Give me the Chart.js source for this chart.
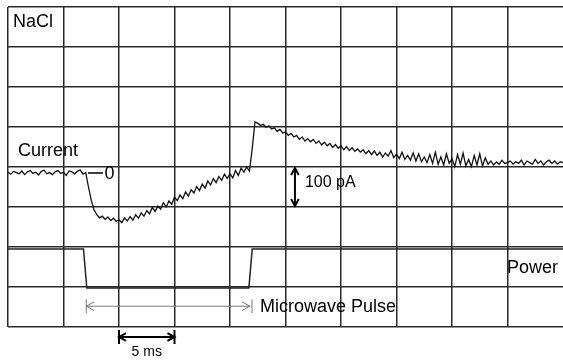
<!DOCTYPE html>
<html>
<head>
<meta charset="utf-8">
<script src="https://cdn.jsdelivr.net/npm/chart.js@4/dist/chart.umd.min.js"></script>
<style>
html, body { margin: 0; padding: 0; background: #fff; }
</style>
</head>
<body>
<canvas id="myChart" width="563" height="362"></canvas>
<script>
// scope trace, NaCl, microwave pulse

// current trace, sampled every 0.25 ms, in pA (0 = baseline)
var sampleStep = 0.25;
var currentPA = [
    2, -3, 4, 1,   -2, 5, -4, 3,   6, -1, 2, -5,   4, 7, -2, 1,
    -4, 3, 6, -1,   2, -6, 5, 3,   -2, 4, 8, -3,
    1, -35, -68, -92,   -104, -112, -108, -116,   -110, -119, -113, -121,
    -117, -124, -112, -120,   -109, -118, -104, -113,   -100, -108, -94, -102,
    -86, -96, -83, -90,   -74, -85, -70, -78,   -60, -69, -55, -64,
    -47, -58, -42, -50,   -34, -44, -28, -38,   -20, -30, -14, -24,
    -9, -18, -3, -14,   -2, -12, 6, -6,   12, 2, 15, 5,
    60, 128, 124, 119,   122, 114, 118, 110,   113, 104, 109, 100,
    103, 94, 99, 90,   94, 84, 90, 80,   86, 78, 84, 74,
    80, 70, 77, 68,   74, 64, 71, 62,   68, 58, 66, 56,
    63, 54, 60, 52,   58, 48, 56, 46,   55, 44, 52, 40,
    50, 42, 56, 38,   47, 36, 52, 34,   44, 32, 50, 30,
    48, 28, 40, 26,   46, 24, 52, 22,   40, 20, 48, 24,
    36, 16, 46, 22,   50, 18, 34, 16,   44, 20, 48, 18,
    38, 22, 30, 20,   28, 22, 32, 24,   26, 30, 22, 28,
    24, 32, 20, 30,   26, 22, 34, 24,   30, 20, 28, 32,
    24, 30, 22, 28,   26
];

// microwave power trace (1 = on level, 0 = off level)
var powerTimes = [0, 6.8, 7.1, 21.7, 22.0, 50];
var powerLevels = [1, 1, 0, 0, 1, 1];

var gridColor = '#2a2a2a';

var currentData = currentPA.map(function (v, i) { return { x: i * sampleStep, y: v }; });
var powerData = powerTimes.map(function (t, i) { return { x: t, y: powerLevels[i] }; });

function arrowHead(ctx, x, y, angle, size) {
    ctx.beginPath();
    ctx.moveTo(x - size * Math.cos(angle - 0.5), y - size * Math.sin(angle - 0.5));
    ctx.lineTo(x, y);
    ctx.lineTo(x - size * Math.cos(angle + 0.5), y - size * Math.sin(angle + 0.5));
    ctx.stroke();
}

var notes = {
    id: 'notes',
    afterDatasetsDraw: function (chart) {
        var ctx = chart.ctx;
        var sx = chart.scales.x, sy = chart.scales.y, si = chart.scales.yI;
        var X = function (v) { return sx.getPixelForValue(v); };
        var Y = function (v) { return sy.getPixelForValue(v); };
        ctx.save();
        ctx.fillStyle = '#000';
        ctx.textBaseline = 'middle';
        ctx.textAlign = 'left';
        ctx.font = '18px "Liberation Sans", Arial, sans-serif';
        ctx.fillText('NaCl', X(0.45), Y(7.62));
        ctx.fillText('Current', X(0.9), Y(4.4));
        ctx.fillText('Power', X(44.95), Y(1.47));
        ctx.fillText('Microwave Pulse', X(22.7), Y(0.5));

        // zero marker
        ctx.strokeStyle = '#000';
        ctx.lineWidth = 1.5;
        ctx.beginPath();
        ctx.moveTo(X(7.2), si.getPixelForValue(0));
        ctx.lineTo(X(8.55), si.getPixelForValue(0));
        ctx.stroke();
        ctx.fillText('0', X(8.7), si.getPixelForValue(0) + 1);

        // 100 pA arrow
        ctx.lineWidth = 2;
        var ax = X(25.85);
        ctx.beginPath();
        ctx.moveTo(ax, Y(4) + 1);
        ctx.lineTo(ax, Y(3) - 1);
        ctx.stroke();
        arrowHead(ctx, ax, Y(4) + 1, -Math.PI / 2, 8);
        arrowHead(ctx, ax, Y(3) - 1, Math.PI / 2, 8);
        ctx.font = '16px "Liberation Sans", Arial, sans-serif';
        ctx.fillText('100 pA', X(26.75), Y(3.62));

        // microwave pulse span
        ctx.strokeStyle = '#777';
        ctx.lineWidth = 1;
        var py = Y(0.52), p1 = X(7.05), p2 = X(21.8);
        ctx.beginPath();
        ctx.moveTo(p1, py);
        ctx.lineTo(p2, py);
        ctx.moveTo(p1, py - 7);
        ctx.lineTo(p1, py + 7);
        ctx.moveTo(p2 + 2, py - 7);
        ctx.lineTo(p2 + 2, py + 7);
        ctx.stroke();
        arrowHead(ctx, p1, py, Math.PI, 9);
        arrowHead(ctx, p2, py, 0, 9);

        // 5 ms scale bar
        ctx.strokeStyle = '#000';
        ctx.lineWidth = 2;
        var by = Y(-0.25), b1 = X(10), b2 = X(15);
        ctx.beginPath();
        ctx.moveTo(b1, by);
        ctx.lineTo(b2, by);
        ctx.moveTo(b1, by - 7);
        ctx.lineTo(b1, by + 7);
        ctx.moveTo(b2, by - 7);
        ctx.lineTo(b2, by + 7);
        ctx.stroke();
        arrowHead(ctx, b1, by, Math.PI, 8);
        arrowHead(ctx, b2, by, 0, 8);
        ctx.textAlign = 'center';
        ctx.font = '14px "Liberation Sans", Arial, sans-serif';
        ctx.fillText('5 ms', X(12.5), Y(-0.63));
        ctx.restore();
    }
};

var config = {
    type: 'line',
    data: {
        datasets: [{
            label: 'Current',
            data: currentData,
            yAxisID: 'yI',
            borderColor: '#111',
            borderWidth: 1.3,
            pointRadius: 0,
            tension: 0
        }, {
            label: 'Power',
            data: powerData,
            yAxisID: 'yP',
            borderColor: '#222',
            borderWidth: 1.5,
            pointRadius: 0,
            tension: 0
        }]
    },
    options: {
        responsive: false,
        animation: false,
        layout: { padding: { left: 8, top: 7, right: 0, bottom: 35 } },
        plugins: {
            legend: { display: false },
            tooltip: { enabled: false }
        },
        scales: {
            x: {
                type: 'linear',
                min: 0,
                max: 50,
                ticks: { display: false, stepSize: 5 },
                border: { display: false },
                grid: {
                    drawTicks: false,
                    lineWidth: 1.5,
                    color: function (c) { return c.tick && c.tick.value === 50 ? 'rgba(0,0,0,0)' : gridColor; }
                }
            },
            y: {
                min: 0,
                max: 8,
                ticks: { display: false, stepSize: 1 },
                border: { display: false },
                grid: { drawTicks: false, lineWidth: 1.5, color: gridColor }
            },
            yI: { display: false, min: -385, max: 415 },
            yP: { display: false, min: -1, max: 7.2 }
        }
    },
    plugins: [notes]
};

var myChart = new Chart(document.getElementById('myChart'), config);
</script>
</body>
</html>
